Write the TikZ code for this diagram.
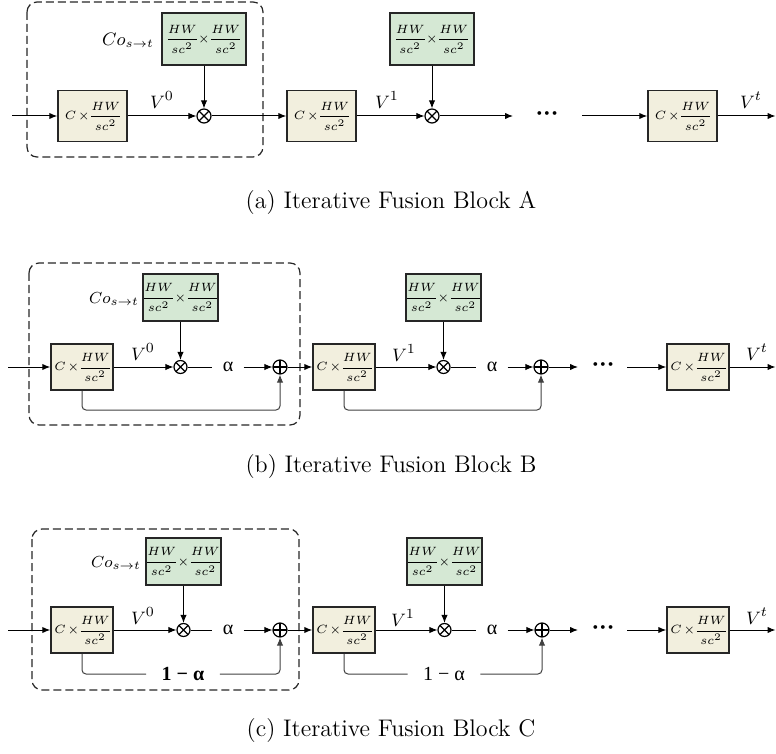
\documentclass[tikz,border=0pt]{standalone}
\usepackage{amsmath}
\usepackage{amssymb}
\usepackage{fontspec}
\usetikzlibrary{arrows.meta}
\newfontfamily\grk{Liberation Serif}
\newcommand{\ualpha}{{\grk α}}
\newcommand{\fdots}{{\boldmath${\cdot}{\cdot}{\cdot}$}}
\newcommand{\boxfont}[1]{\fontsize{#1}{#1}\selectfont\nulldelimiterspace0pt\relax}
\newcommand{\tm}{\mkern2mu{\times}\mkern2mu}
\definecolor{featfill}{RGB}{242,239,222}
\definecolor{corrfill}{RGB}{213,232,212}

\begin{document}
\begin{tikzpicture}
  [x=0.5pt,y=-0.5pt,>={Latex[length=4pt,width=3.2pt]},line width=0.5pt,
   feat/.style={draw=black!85,line width=0.75pt,fill=featfill,inner sep=0pt},
   corr/.style={draw=black!85,line width=0.75pt,fill=corrfill,inner sep=0pt},
   featA/.style={feat,minimum width=34.5pt,minimum height=25.5pt,font=\boxfont{6.3}},
   corrA/.style={corr,minimum width=42pt,minimum height=26pt,font=\boxfont{6.3}},
   featB/.style={feat,minimum width=31pt,minimum height=23pt,font=\boxfont{5.8}},
   corrB/.style={corr,minimum width=37.5pt,minimum height=23.5pt,font=\boxfont{5.8}},
   mul/.style={circle,draw,fill=white,inner sep=0pt,minimum size=7pt,line width=0.6pt,
     path picture={\draw[line width=0.6pt] (path picture bounding box.north west) -- (path picture bounding box.south east)
       (path picture bounding box.north east) -- (path picture bounding box.south west);}},
   add/.style={circle,draw,fill=white,inner sep=0pt,minimum size=7pt,line width=0.6pt,
     path picture={\draw[line width=0.6pt] (path picture bounding box.north) -- (path picture bounding box.south)
       (path picture bounding box.east) -- (path picture bounding box.west);}},
   wgt/.style={inner xsep=5pt,inner ysep=1pt,font=\fontsize{10}{12}\selectfont},
   lab/.style={inner sep=0pt,font=\fontsize{9.5}{11}\selectfont},
   dotsnode/.style={inner sep=0pt,font=\fontsize{12}{12}\selectfont},
   skip/.style={draw=black!75,rounded corners=2pt},
   group/.style={dashed,dash pattern=on 4pt off 2pt,rounded corners=5pt,line width=0.6pt,draw=black!85},
   subcap/.style={font=\fontsize{12}{14}\selectfont}]
  \useasboundingbox (0,0) rectangle (776,754);

  % (a) Iterative Fusion Block A
  \draw[group] (27,2) rectangle (263,157);
  \coordinate (a-in) at (12,116);
  \node[featA] (a-f0) at (92.5,116) {$C\tm\dfrac{HW}{sc^2}$};
  \node[corrA] (a-att0) at (204,39) {$\dfrac{HW}{sc^2}\tm\dfrac{HW}{sc^2}$};
  \node[mul] (a-mul0) at (204,116) {};
  \node[featA] (a-f1) at (321.5,116) {$C\tm\dfrac{HW}{sc^2}$};
  \node[corrA] (a-att1) at (432,39) {$\dfrac{HW}{sc^2}\tm\dfrac{HW}{sc^2}$};
  \node[mul] (a-mul1) at (432,116) {};
  \coordinate (a-end) at (513,116);
  \node[dotsnode] (a-dots) at (547,114) {\fdots};
  \coordinate (a-go) at (582,116);
  \node[featA] (a-f2) at (682.5,116) {$C\tm\dfrac{HW}{sc^2}$};
  \coordinate (a-out) at (775.5,116);
  \node[lab,font=\fontsize{9}{11}\selectfont] (a-co) at (128,40) {$Co_{s\to t}$};
  \node[lab] (a-v0) at (162,100) {$V^0$};
  \node[lab] (a-v1) at (387,100) {$V^1$};
  \node[lab] (a-vt) at (751,100) {$V^t$};
  \node[subcap] (a-cap) at (391,203) {(a) Iterative Fusion Block A};

  \foreach \from/\to in {a-in/a-f0,a-f0/a-mul0,a-att0/a-mul0,a-mul0/a-f1,a-f1/a-mul1,a-att1/a-mul1,a-mul1/a-end,a-go/a-f2,a-f2/a-out}
    \draw[->] (\from) -- (\to);

  % (b) Iterative Fusion Block B
  \draw[group] (29,263) rectangle (300,425);
  \coordinate (b-in) at (8,367);
  \node[featB] (b-f0) at (82,367) {$C\tm\dfrac{HW}{sc^2}$};
  \node[corrB] (b-att0) at (180.5,297.5) {$\dfrac{HW}{sc^2}\tm\dfrac{HW}{sc^2}$};
  \node[mul,minimum size=6.5pt] (b-mul0) at (180.5,367) {};
  \node[wgt] (b-al0) at (228,367) {\ualpha};
  \node[add] (b-add0) at (280,367) {};
  \node[featB] (b-f1) at (344,367) {$C\tm\dfrac{HW}{sc^2}$};
  \node[corrB] (b-att1) at (443.5,297.5) {$\dfrac{HW}{sc^2}\tm\dfrac{HW}{sc^2}$};
  \node[mul,minimum size=6.5pt] (b-mul1) at (443.5,367) {};
  \node[wgt] (b-al1) at (492,367) {\ualpha};
  \node[add] (b-add1) at (541,367) {};
  \coordinate (b-end) at (578,367);
  \node[dotsnode] (b-dots) at (603,365) {\fdots};
  \coordinate (b-go) at (627,367);
  \node[featB] (b-f2) at (698,367) {$C\tm\dfrac{HW}{sc^2}$};
  \coordinate (b-out) at (775.5,367);
  \node[lab,font=\fontsize{8.3}{10}\selectfont] (b-co) at (114,299) {$Co_{s\to t}$};
  \node[lab] (b-v0) at (143,352) {$V^0$};
  \node[lab] (b-v1) at (404,353) {$V^1$};
  \node[lab] (b-vt) at (757,352) {$V^t$};
  \node[subcap] (b-cap) at (391,467) {(b) Iterative Fusion Block B};

  \foreach \from/\to in {b-in/b-f0,b-f0/b-mul0,b-att0/b-mul0,b-al0/b-add0,b-add0/b-f1,b-f1/b-mul1,b-att1/b-mul1,b-al1/b-add1,b-add1/b-end,b-go/b-f2,b-f2/b-out}
    \draw[->] (\from) -- (\to);
  \draw (b-mul0) -- (b-al0);
  \draw (b-mul1) -- (b-al1);
  \draw[skip,->] (b-f0.south) -- (82,410) -| (b-add0.south);
  \draw[skip,->] (b-f1.south) -- (344,410) -| (b-add1.south);

  % (c) Iterative Fusion Block C
  \draw[group] (32,529) rectangle (299,690);
  \coordinate (c-in) at (8,630);
  \node[featB] (c-f0) at (82,630) {$C\tm\dfrac{HW}{sc^2}$};
  \node[corrB] (c-att0) at (183.5,561.5) {$\dfrac{HW}{sc^2}\tm\dfrac{HW}{sc^2}$};
  \node[mul,minimum size=6.5pt] (c-mul0) at (183.5,630) {};
  \node[wgt] (c-al0) at (228,630) {\ualpha};
  \node[add] (c-add0) at (280,630) {};
  \node[featB] (c-f1) at (344,630) {$C\tm\dfrac{HW}{sc^2}$};
  \node[corrB] (c-att1) at (444.5,561.5) {$\dfrac{HW}{sc^2}\tm\dfrac{HW}{sc^2}$};
  \node[mul,minimum size=6.5pt] (c-mul1) at (444.5,630) {};
  \node[wgt] (c-al1) at (492,630) {\ualpha};
  \node[add] (c-add1) at (542,630) {};
  \coordinate (c-end) at (578,630);
  \node[dotsnode] (c-dots) at (603,628) {\fdots};
  \coordinate (c-go) at (627,630);
  \node[featB] (c-f2) at (698,630) {$C\tm\dfrac{HW}{sc^2}$};
  \coordinate (c-out) at (775.5,630);
  \node[lab,font=\fontsize{8.3}{10}\selectfont] (c-co) at (116,563) {$Co_{s\to t}$};
  \node[lab] (c-v0) at (143,616) {$V^0$};
  \node[lab] (c-v1) at (403,618) {$V^1$};
  \node[lab] (c-vt) at (757,616) {$V^t$};
  \node[wgt,inner xsep=7.5pt,font=\fontsize{10}{12}\bfseries] (c-w0) at (183,674) {\grk 1 − α};
  \node[wgt,inner xsep=7.5pt] (c-w1) at (444,674) {\grk 1 − α};
  \node[subcap] (c-cap) at (391,731) {(c) Iterative Fusion Block C};

  \foreach \from/\to in {c-in/c-f0,c-f0/c-mul0,c-att0/c-mul0,c-al0/c-add0,c-add0/c-f1,c-f1/c-mul1,c-att1/c-mul1,c-al1/c-add1,c-add1/c-end,c-go/c-f2,c-f2/c-out}
    \draw[->] (\from) -- (\to);
  \draw (c-mul0) -- (c-al0);
  \draw (c-mul1) -- (c-al1);
  \draw[skip] (c-f0.south) |- (c-w0.west);
  \draw[skip,->] (c-w0.east) -| (c-add0.south);
  \draw[skip] (c-f1.south) |- (c-w1.west);
  \draw[skip,->] (c-w1.east) -| (c-add1.south);
\end{tikzpicture}
\end{document}
